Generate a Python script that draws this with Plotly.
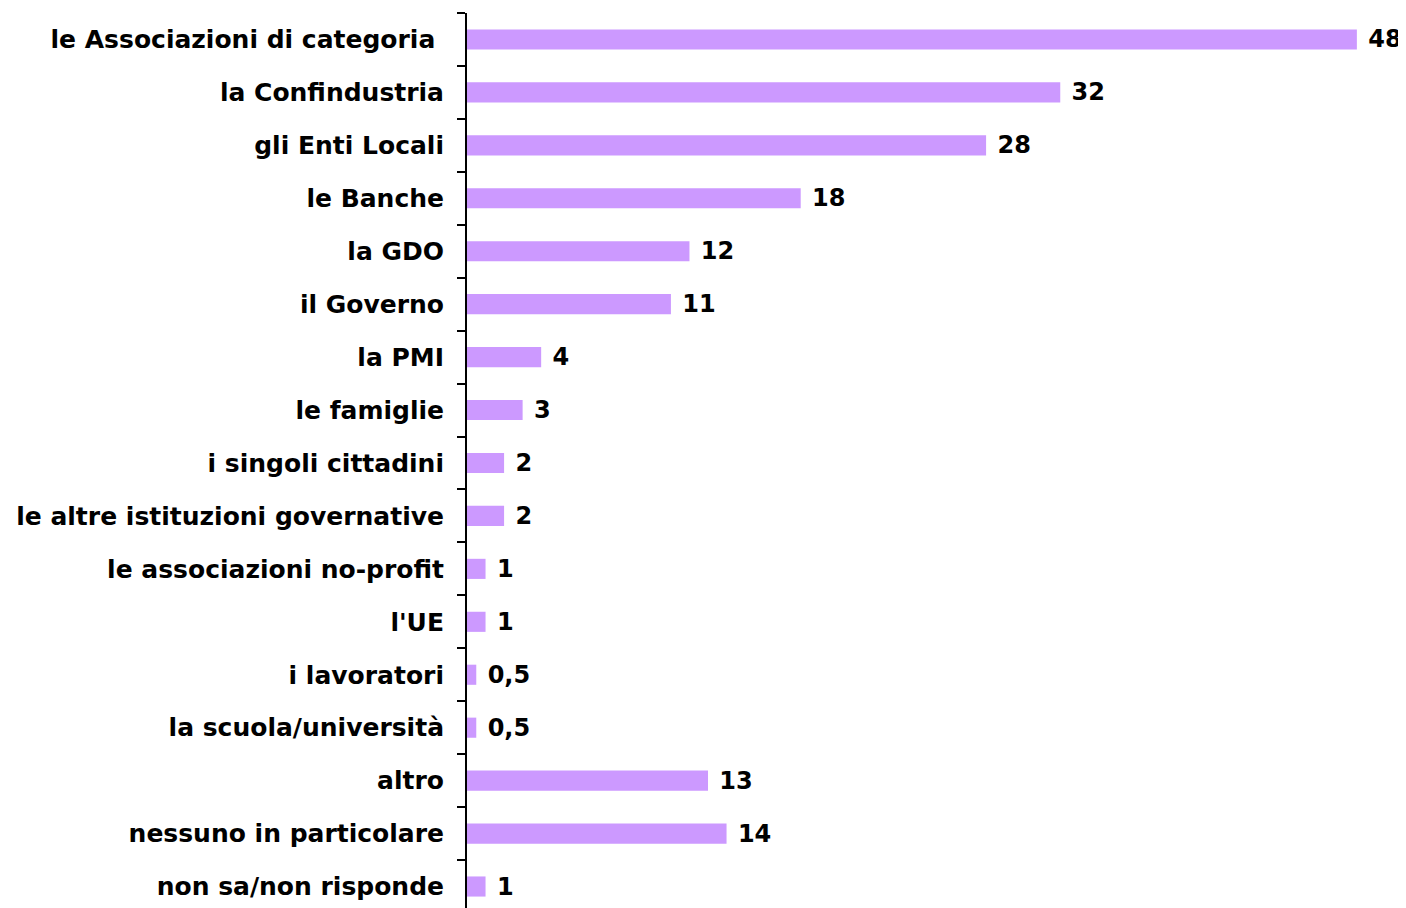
import plotly.graph_objects as go

categorie = [
    "le Associazioni di categoria\u00a0",
    "la Confindustria",
    "gli Enti Locali",
    "le Banche",
    "la GDO",
    "il Governo",
    "la PMI",
    "le famiglie",
    "i singoli cittadini",
    "le altre istituzioni governative",
    "le associazioni no-profit",
    "l'UE",
    "i lavoratori",
    "la scuola/università",
    "altro",
    "nessuno in particolare",
    "non sa/non risponde",
]
valori = [48, 32, 28, 18, 12, 11, 4, 3, 2, 2, 1, 1, 0.5, 0.5, 13, 14, 1]


def etichetta(v):
    return "\u00a0" + f"{v:g}".replace(".", ",")


fig = go.Figure()
fig.add_trace(go.Bar(
    x=valori,
    y=categorie,
    orientation="h",
    marker=dict(color="#CC99FF", line=dict(width=0)),
    width=0.38,
    text=[etichetta(v) for v in valori],
    textposition="outside",
    constraintext="none",
    textfont=dict(family="DejaVu Sans", size=24, color="black", weight="bold"),
    cliponaxis=False,
    hoverinfo="skip",
))

# la pagina html ha un margine di 8px sul body
fig.update_layout(
    width=1398,
    height=900,
    margin=dict(l=459, r=0, t=5, b=0, autoexpand=False),
    paper_bgcolor="white",
    plot_bgcolor="white",
    showlegend=False,
    font=dict(family="DejaVu Sans", size=20, color="black"),
    xaxis=dict(
        range=[0, 50.65],
        visible=False,
        automargin=False,
    ),
    yaxis=dict(
        type="category",
        range=[16.406, -0.5],
        automargin=False,
        showline=True,
        linecolor="black",
        linewidth=2,
        ticks="outside",
        tickson="boundaries",
        ticklen=8,
        tickwidth=2,
        tickcolor="black",
        showgrid=False,
        zeroline=False,
        ticklabelstandoff=16,
        tickfont=dict(family="DejaVu Sans", size=25, color="black", weight="bold"),
    ),
)

fig.write_html("out.html")
